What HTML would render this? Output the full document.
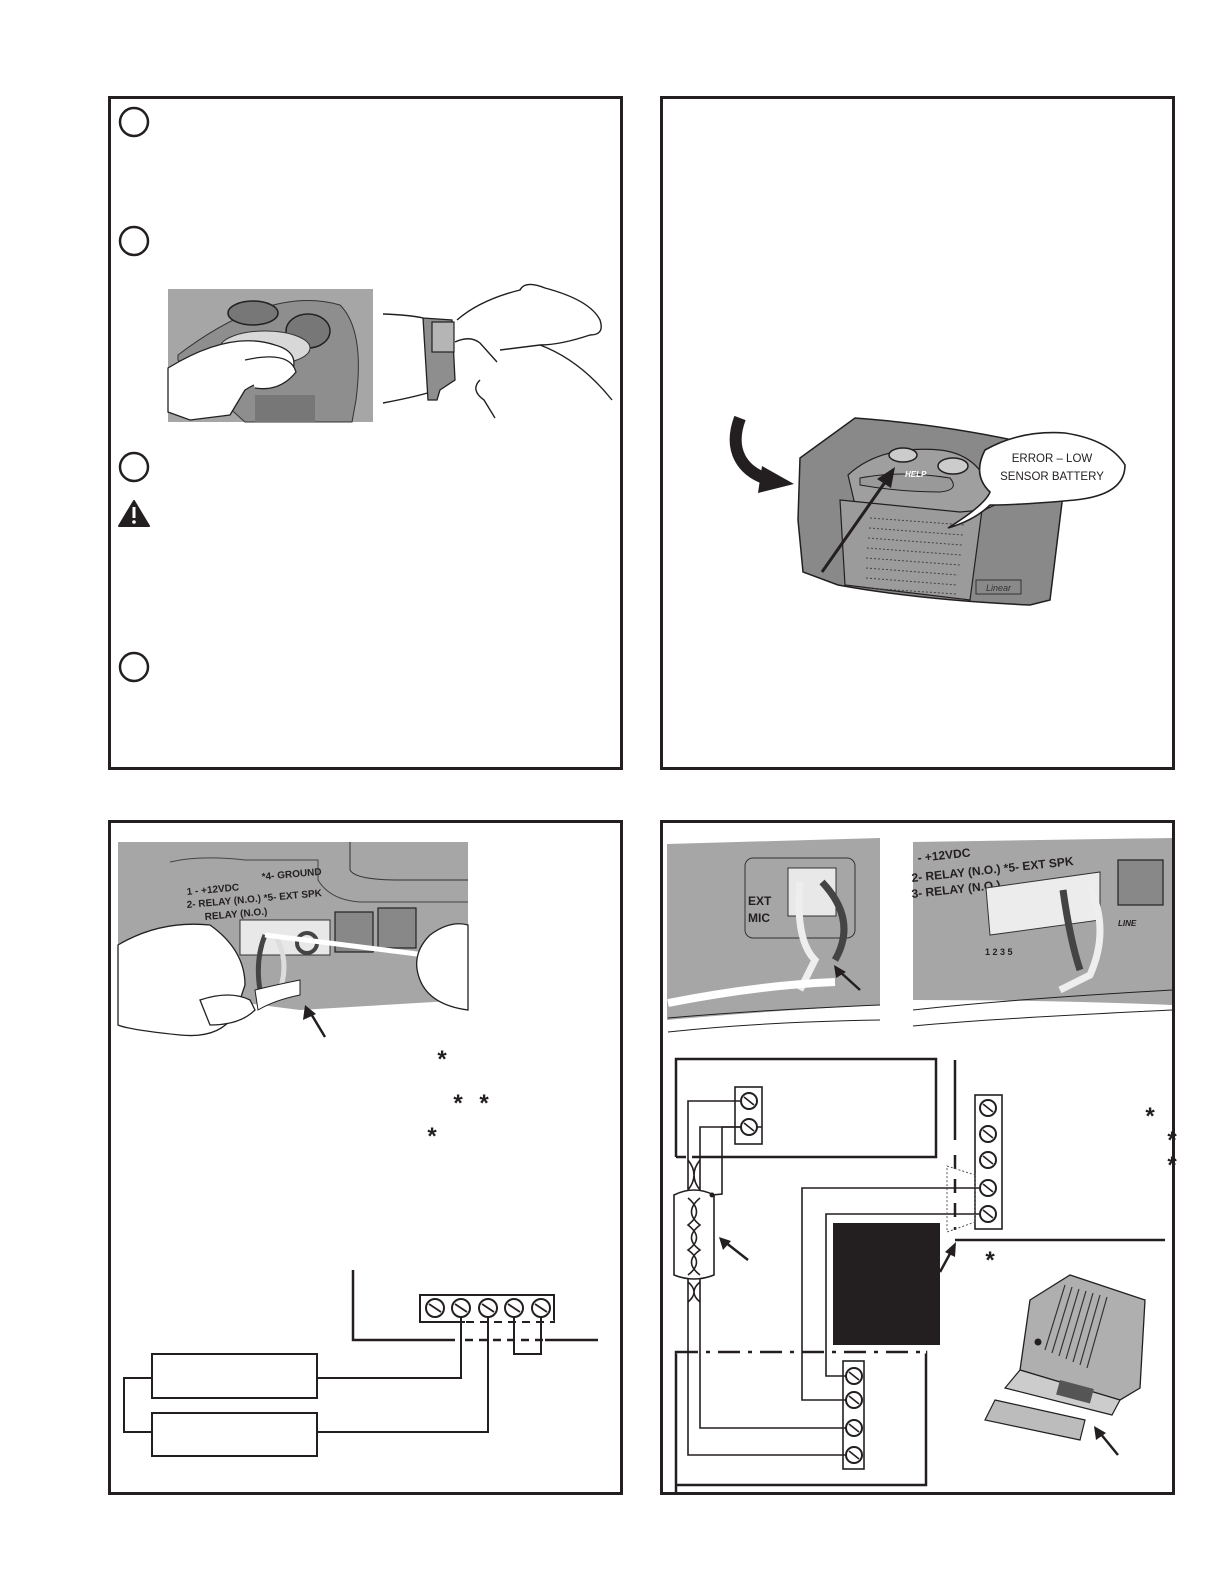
<!DOCTYPE html>
<html><head><meta charset="utf-8"><style>
html,body{margin:0;padding:0;background:#fff;overflow:hidden;width:1225px;height:1585px;}
svg{display:block;position:absolute;left:0;top:0;font-family:"Liberation Sans",sans-serif;}
</style></head><body>
<svg width="1225" height="1585" viewBox="0 0 1225 1585" xmlns="http://www.w3.org/2000/svg">
<defs>
<g id="scr"><circle r="9" fill="#fff" stroke="#231f20" stroke-width="2"/><line x1="-6" y1="-4" x2="6" y2="4" stroke="#231f20" stroke-width="1.8"/></g>
<g id="scrS"><circle r="8" fill="#fff" stroke="#231f20" stroke-width="2"/><line x1="-5" y1="-4" x2="5" y2="4" stroke="#231f20" stroke-width="1.6"/></g>
</defs>
<!-- frames -->
<g fill="none" stroke="#231f20" stroke-width="3">
<rect x="109.5" y="97.5" width="512" height="671"/>
<rect x="661.5" y="97.5" width="512" height="671"/>
<rect x="109.5" y="821.5" width="512" height="672"/>
<rect x="661.5" y="821.5" width="512" height="672"/>
</g>

<!-- TL panel -->
<g fill="none" stroke="#231f20" stroke-width="2.5">
<circle cx="134" cy="122" r="14"/><circle cx="134" cy="241" r="14"/>
<circle cx="134" cy="467" r="14"/><circle cx="134" cy="667" r="14"/>
</g>
<path d="M134 501 L149 526 L119 526 Z" fill="#231f20" stroke="#231f20" stroke-width="2" stroke-linejoin="round"/>
<rect x="132.5" y="507" width="3" height="11" fill="#fff"/><circle cx="134" cy="522" r="1.8" fill="#fff"/>
<!-- photo 1 -->
<rect x="168" y="289" width="205" height="133" fill="#a7a6a6"/>
<path d="M178 355 Q270 285 340 305 Q365 330 356 400 L352 422 L245 422 Q220 400 178 360 Z" fill="#8f8e8e" stroke="#333" stroke-width="1"/>
<ellipse cx="253" cy="313" rx="25" ry="12" fill="#777" stroke="#222" stroke-width="1.5"/>
<ellipse cx="308" cy="331" rx="22" ry="17" fill="#777" stroke="#222" stroke-width="1.5"/>
<ellipse cx="265" cy="348" rx="45" ry="17" fill="#d8d8d8" stroke="#333" stroke-width="1"/>
<path d="M168 368 Q230 330 275 345 Q300 352 292 372 Q260 380 245 390 L230 415 L190 420 L168 412 Z" fill="#fff" stroke="#222" stroke-width="1.3"/>
<path d="M245 360 Q290 350 296 372 Q280 392 255 388" fill="#fff" stroke="#222" stroke-width="1.3"/>
<rect x="255" y="395" width="60" height="27" fill="#777"/>
<!-- photo 2 wrist line drawing -->
<g fill="none" stroke="#231f20" stroke-width="1.4">
<path d="M383 314 Q410 315 423 318"/>
<path d="M383 403 Q420 396 437 390"/>
<path d="M457 320 Q480 300 520 290 Q525 280 545 288 Q590 300 600 320 Q605 335 590 335 Q560 345 540 345 L500 350"/>
<path d="M540 345 Q580 360 612 400"/>
<path d="M455 342 Q470 335 480 343 L497 362"/>
<path d="M480 380 Q470 390 484 400 L495 418"/>
</g>
<path d="M423 318 L452 320 L455 380 L440 390 L437 400 L428 400 Z" fill="#8f8e8e" stroke="#231f20" stroke-width="1.3"/>
<rect x="432" y="322" width="22" height="30" fill="#b5b5b5" stroke="#231f20" stroke-width="1.2"/>

<!-- TR panel console -->
<path d="M740 418 C728 450 742 472 770 480" fill="none" stroke="#231f20" stroke-width="12"/>
<path d="M762 466 L794 484 L758 493 Z" fill="#231f20"/>
<path d="M800 458 L855 418 Q950 425 1035 445 L1065 478 L1050 600 L1030 605 Q920 600 838 585 L803 572 L798 520 Z" fill="#8a8989" stroke="#231f20" stroke-width="1.5"/>
<path d="M848 475 Q880 445 940 450 Q985 455 995 505 L980 512 L940 520 L855 505 Z" fill="#a09f9f" stroke="#231f20" stroke-width="1.2"/>
<path d="M840 500 L960 512 L982 510 L970 600 L845 585 Z" fill="#9c9b9b" stroke="#231f20" stroke-width="1.2"/>
<g stroke="#444" stroke-width="1" stroke-dasharray="2 2">
<line x1="870" y1="518" x2="965" y2="525"/><line x1="869" y1="528" x2="963" y2="535"/><line x1="868" y1="538" x2="962" y2="545"/>
<line x1="867" y1="548" x2="961" y2="555"/><line x1="866" y1="558" x2="960" y2="565"/><line x1="866" y1="568" x2="958" y2="575"/>
<line x1="866" y1="578" x2="957" y2="585"/><line x1="866" y1="588" x2="956" y2="594"/>
</g>
<ellipse cx="903" cy="455" rx="14" ry="7" fill="#ccc" stroke="#231f20" stroke-width="1.5"/>
<ellipse cx="953" cy="466" rx="15" ry="8" fill="#ccc" stroke="#231f20" stroke-width="1.5"/>
<path d="M860 478 Q900 470 950 478 Q960 490 940 492 Q900 492 860 485 Z" fill="#999" stroke="#231f20" stroke-width="1"/>
<text x="905" y="477" font-size="8" font-weight="bold" font-style="italic" fill="#fff">HELP</text>
<rect x="976" y="580" width="45" height="14" fill="none" stroke="#333" stroke-width="1"/>
<text x="986" y="591" font-size="9" font-style="italic" fill="#333">Linear</text>
<line x1="822" y1="572" x2="888" y2="478" stroke="#231f20" stroke-width="3"/>
<path d="M895 467 L877 479 L891 488 Z" fill="#231f20"/>
<path d="M948 528 Q985 505 990 492 Q972 475 985 450 Q1020 430 1065 433 Q1110 440 1125 465 Q1125 495 1075 500 Q1020 505 990 505 Q975 520 948 528 Z" fill="#fff" stroke="#231f20" stroke-width="1.6"/>
<text x="1052" y="462" font-size="11.5" text-anchor="middle" fill="#231f20">ERROR – LOW</text>
<text x="1052" y="480" font-size="11.5" text-anchor="middle" fill="#231f20">SENSOR BATTERY</text>

<!-- BL photo -->
<path d="M118 842 L468 842 L468 1000 L300 1010 Q220 1000 118 985 Z" fill="#a7a6a6"/>
<path d="M350 842 L350 870 Q355 880 400 880 L468 880" fill="none" stroke="#333" stroke-width="1"/>
<path d="M170 862 Q200 855 245 860 L318 860 L318 880 Q330 900 360 902 L468 902" fill="none" stroke="#444" stroke-width="1"/>
<text x="187" y="895" font-size="10" font-weight="bold" fill="#231f20" transform="rotate(-5 187 895)">1 - +12VDC</text>
<text x="262" y="880" font-size="10" font-weight="bold" fill="#231f20" transform="rotate(-5 262 880)">*4- GROUND</text>
<text x="187" y="908" font-size="10" font-weight="bold" fill="#231f20" transform="rotate(-5 187 908)">2- RELAY (N.O.) *5- EXT SPK</text>
<text x="205" y="920" font-size="10" font-weight="bold" fill="#231f20" transform="rotate(-5 205 920)">RELAY (N.O.)</text>
<rect x="240" y="920" width="90" height="35" fill="#e8e8e8" stroke="#333" stroke-width="1"/>
<rect x="335" y="912" width="38" height="40" fill="#888" stroke="#222" stroke-width="1.2"/>
<rect x="378" y="908" width="38" height="40" fill="#888" stroke="#222" stroke-width="1.2"/>
<path d="M265 935 Q255 960 260 990" fill="none" stroke="#444" stroke-width="5"/>
<path d="M275 935 Q290 960 280 990" fill="none" stroke="#ddd" stroke-width="5"/>
<circle cx="307" cy="943" r="10" fill="none" stroke="#444" stroke-width="4"/>
<path d="M265 935 L425 955" stroke="#fff" stroke-width="5"/>
<path d="M118 945 Q160 920 210 925 Q245 950 245 985 L240 1000 Q230 1040 180 1035 Q130 1030 118 1025 Z" fill="#fff" stroke="#231f20" stroke-width="1.3"/>
<path d="M200 1000 Q230 990 250 1000 L255 1010 Q240 1025 210 1025 Z" fill="#fff" stroke="#231f20" stroke-width="1.3"/>
<path d="M255 990 Q275 985 300 980 L300 995 Q275 1000 258 1010 Z" fill="#fff" stroke="#231f20" stroke-width="1"/>
<path d="M430 935 Q450 920 468 925 L468 1010 Q430 1005 420 980 Q410 955 430 935 Z" fill="#fff" stroke="#231f20" stroke-width="1.3"/>
<line x1="325" y1="1037" x2="310" y2="1012" stroke="#231f20" stroke-width="2.5"/>
<path d="M305 1005 L303 1020 L316 1014 Z" fill="#231f20"/>
<g font-size="24" font-weight="bold" fill="#231f20" text-anchor="middle">
<text x="442" y="1067">*</text><text x="458" y="1111">*</text><text x="484" y="1111">*</text><text x="432" y="1144">*</text>
</g>
<!-- BL diagram -->
<g fill="none" stroke="#231f20" stroke-width="2">
<rect x="420" y="1295" width="134" height="27"/>
<polyline points="353,1270 353,1340 455,1340" stroke-width="2.5"/>
<line x1="545" y1="1340" x2="598" y2="1340" stroke-width="2.5"/>
<line x1="465" y1="1340" x2="545" y2="1340" stroke-width="2.5" stroke-dasharray="8 6"/>
<line x1="465" y1="1322" x2="554" y2="1322" stroke="#fff" stroke-width="3"/>
<line x1="466" y1="1322" x2="554" y2="1322" stroke-dasharray="8 6"/>
<polyline points="461,1316 461,1378 318,1378"/>
<polyline points="488,1316 488,1432 318,1432"/>
<polyline points="514,1316 514,1354 541,1354 541,1316"/>
<rect x="152" y="1354" width="165" height="44"/>
<rect x="152" y="1413" width="165" height="43"/>
<polyline points="152,1378 124,1378 124,1432 152,1432"/>
</g>
<use href="#scr" x="435" y="1308"/><use href="#scr" x="461" y="1308"/><use href="#scr" x="488" y="1308"/><use href="#scr" x="514" y="1308"/><use href="#scr" x="541" y="1308"/>

<!-- BR photos -->
<path d="M667 844 L880 838 L880 1005 Q780 1010 667 1020 Z" fill="#a7a6a6"/>
<rect x="745" y="858" width="110" height="80" rx="8" fill="none" stroke="#333" stroke-width="1"/>
<text x="748" y="905" font-size="12" font-weight="bold" fill="#231f20">EXT</text>
<text x="748" y="922" font-size="12" font-weight="bold" fill="#231f20">MIC</text>
<rect x="788" y="868" width="48" height="48" fill="#e8e8e8" stroke="#333" stroke-width="1"/>
<path d="M800 882 Q795 940 815 960 L800 990" fill="none" stroke="#eee" stroke-width="7"/>
<path d="M822 882 Q858 920 835 960" fill="none" stroke="#444" stroke-width="7"/>
<path d="M668 1003 Q760 985 835 982" fill="none" stroke="#fff" stroke-width="8"/>
<path d="M668 1018 Q760 1010 880 1005" fill="none" stroke="#231f20" stroke-width="1"/>
<path d="M668 1032 Q760 1022 880 1020" fill="none" stroke="#231f20" stroke-width="1"/>
<line x1="860" y1="990" x2="838" y2="970" stroke="#231f20" stroke-width="2.5"/>
<path d="M834 965 L836 978 L846 972 Z" fill="#231f20"/>
<path d="M913 842 L1172 838 L1172 1005 Q1050 1000 913 1000 Z" fill="#a7a6a6"/>
<text x="918" y="862" font-size="12" font-weight="bold" fill="#231f20" transform="rotate(-6 918 862)">- +12VDC</text>
<text x="912" y="882" font-size="12" font-weight="bold" fill="#231f20" transform="rotate(-6 912 882)">2- RELAY (N.O.) *5- EXT SPK</text>
<text x="912" y="898" font-size="12" font-weight="bold" fill="#231f20" transform="rotate(-6 912 898)">3- RELAY (N.O.)</text>
<path d="M986 888 L1100 872 L1100 920 L990 935 Z" fill="#ececec" stroke="#333" stroke-width="1"/>
<rect x="1118" y="860" width="45" height="45" fill="#888" stroke="#222" stroke-width="1.2"/>
<text x="1118" y="926" font-size="8" font-weight="bold" font-style="italic" fill="#231f20">LINE</text>
<text x="985" y="955" font-size="9" font-weight="bold" fill="#231f20">1   2   3        5</text>
<path d="M1063 890 Q1070 940 1080 970" fill="none" stroke="#444" stroke-width="7"/>
<path d="M1090 888 Q1110 930 1090 975 L1060 990" fill="none" stroke="#eee" stroke-width="7"/>
<path d="M913 1010 Q1000 1000 1172 990" fill="none" stroke="#231f20" stroke-width="1"/>
<path d="M913 1026 Q1000 1018 1172 1010" fill="none" stroke="#231f20" stroke-width="1"/>

<!-- BR diagram -->
<g fill="none" stroke="#231f20" stroke-width="2.5">
<polyline points="676,1157 676,1059 936,1059 936,1157 700,1157"/>
<line x1="676" y1="1157" x2="700" y2="1157" stroke-dasharray="10 6"/>
<line x1="955" y1="1060" x2="955" y2="1140"/>
<line x1="955" y1="1155" x2="955" y2="1230" stroke-dasharray="14 10"/>
<line x1="955" y1="1240" x2="1165" y2="1240"/>
<polyline points="676,1495 676,1352 926,1352 926,1485 676,1485"/>
</g>
<line x1="676" y1="1352" x2="926" y2="1352" stroke="#fff" stroke-width="3"/>
<line x1="676" y1="1352" x2="926" y2="1352" stroke="#231f20" stroke-width="2.5" stroke-dasharray="22 8 4 8"/>
<g fill="none" stroke="#231f20" stroke-width="1.6">
<rect x="735" y="1087" width="27" height="57"/>
<polyline points="740,1101 688,1101 688,1192"/>
<polyline points="740,1127 700,1127 700,1192"/>
<polyline points="762,1127 722,1127 722,1194 712,1195"/>
<rect x="975" y="1095" width="27" height="134"/>
<polyline points="979,1188 802,1188 802,1400 846,1400"/>
<polyline points="979,1214 826,1214 826,1376 846,1376"/>
<rect x="843" y="1361" width="21" height="108"/>
<polyline points="688,1278 688,1455 846,1455"/>
<polyline points="700,1278 700,1428 846,1428"/>
<path d="M674 1195 Q694 1185 714 1195 L714 1275 Q694 1283 674 1275 Z" fill="#fff"/>
<path d="M688 1198 Q705 1212 688 1225 Q705 1238 688 1250 Q705 1262 688 1275 M700 1198 Q683 1212 700 1225 Q683 1238 700 1250 Q683 1262 700 1275"/>
<path d="M688 1160 Q700 1175 688 1190 M700 1160 Q688 1175 700 1190 M688 1282 Q700 1292 688 1302 M700 1282 Q688 1292 700 1302"/>
</g>
<circle cx="712" cy="1195" r="2.5" fill="#231f20"/>
<polygon points="947,1166 975,1175 975,1222 947,1232" fill="none" stroke="#555" stroke-width="1" stroke-dasharray="2 2"/>
<use href="#scrS" x="749" y="1101"/><use href="#scrS" x="749" y="1127"/>
<use href="#scrS" x="988" y="1108"/><use href="#scrS" x="988" y="1134"/><use href="#scrS" x="988" y="1160"/><use href="#scrS" x="988" y="1188"/><use href="#scrS" x="988" y="1214"/>
<use href="#scrS" x="854" y="1376"/><use href="#scrS" x="854" y="1400"/><use href="#scrS" x="854" y="1428"/><use href="#scrS" x="854" y="1455"/>
<rect x="833" y="1223" width="107" height="122" fill="#231f20"/>
<line x1="940" y1="1272" x2="952" y2="1250" stroke="#231f20" stroke-width="2.5"/>
<path d="M956 1242 L945 1252 L955 1257 Z" fill="#231f20"/>
<line x1="748" y1="1260" x2="725" y2="1242" stroke="#231f20" stroke-width="2.5"/>
<path d="M719 1237 L723 1250 L731 1241 Z" fill="#231f20"/>
<g font-size="24" font-weight="bold" fill="#231f20" text-anchor="middle">
<text x="1150" y="1124">*</text><text x="1172" y="1148">*</text><text x="1172" y="1173">*</text><text x="990" y="1268">*</text>
</g>
<!-- amplifier device -->
<path d="M1030 1300 L1070 1275 L1145 1300 L1140 1388 L1120 1400 L1020 1370 Z" fill="#b0afaf" stroke="#231f20" stroke-width="1.3"/>
<g stroke="#333" stroke-width="1.2"><line x1="1065" y1="1285" x2="1045" y2="1350"/><line x1="1072" y1="1287" x2="1052" y2="1353"/><line x1="1079" y1="1289" x2="1059" y2="1356"/><line x1="1086" y1="1291" x2="1066" y2="1359"/><line x1="1093" y1="1293" x2="1073" y2="1362"/><line x1="1100" y1="1295" x2="1080" y2="1365"/><line x1="1107" y1="1297" x2="1087" y2="1368"/></g>
<circle cx="1038" cy="1342" r="3.5" fill="#231f20"/>
<path d="M1020 1370 L1120 1400 L1112 1415 L1005 1388 Z" fill="#ccc" stroke="#231f20" stroke-width="1.2"/>
<rect x="1060" y="1380" width="35" height="15" fill="#555" transform="rotate(15 1060 1380)"/>
<path d="M995 1400 L1085 1420 L1080 1440 L985 1420 Z" fill="#bdbcbc" stroke="#231f20" stroke-width="1.2"/>
<line x1="1118" y1="1455" x2="1100" y2="1433" stroke="#231f20" stroke-width="2.5"/>
<path d="M1094 1426 L1096 1440 L1106 1433 Z" fill="#231f20"/>
</svg>
</body></html>
